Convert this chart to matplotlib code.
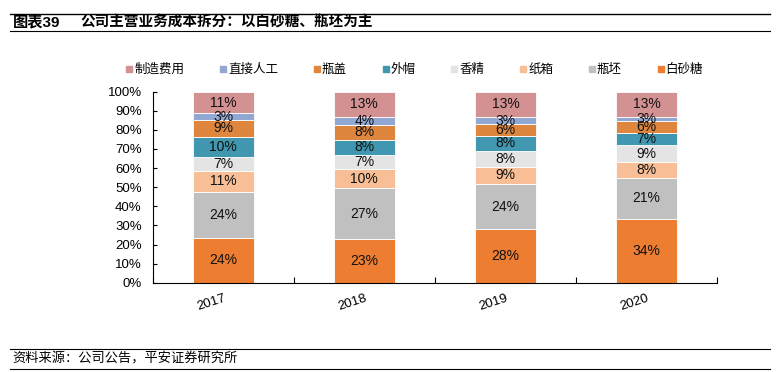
import matplotlib
matplotlib.use("Agg")
import matplotlib.pyplot as plt
from matplotlib.lines import Line2D
import numpy as np

plt.rcParams['font.family'] = ['Liberation Sans', 'Noto Sans CJK SC']

years = ["2017", "2018", "2019", "2020"]
# stacked bottom -> top
components = ["白砂糖", "瓶坯", "纸箱", "香精", "外帽", "瓶盖", "直接人工", "制造费用"]
sugar = [23.6, 22.9, 27.9, 33.6]
preform = [24.0, 26.6, 23.7, 21.1]
carton = [10.9, 10.1, 9.2, 8.3]
flavor = [7.4, 7.4, 8.4, 8.9]
outer_cap = [10.3, 7.9, 7.8, 6.6]
cap = [9.1, 7.9, 6.2, 5.9]
labor = [3.3, 4.1, 3.4, 2.6]
overhead = [11.4, 13.1, 13.4, 13.0]
colors = ["#ED7D31", "#C0C0C0", "#F8BF96", "#E4E4E4", "#4097AF", "#DE863E", "#91A9D2", "#D49192"]

series = [sugar, preform, carton, flavor, outer_cap, cap, labor, overhead]

fig = plt.figure(figsize=(7.79, 3.72), dpi=100)
ax = fig.add_axes([152.7 / 779, 1 - 282.7 / 372, (717 - 152.7) / 779, (282.7 - 91.7) / 372])

x = np.arange(len(years))
bottom = np.zeros(len(years))
for name, vals, c in zip(components, series, colors):
    v = np.array(vals) / 100
    ax.bar(x, v, 0.43, bottom=bottom, color=c, edgecolor="white", linewidth=0.6, label=name)
    for xi, b, h, raw in zip(x, bottom, v, vals):
        ax.text(xi, b + h / 2, f"{round(raw):.0f}%", ha="center", va="center", fontsize=10, color="#111111")
    bottom += v

ax.set_xlim(-0.5, len(years) - 0.5)
ax.set_ylim(0, 1)
ax.set_yticks(np.arange(0, 1.01, 0.1))
ax.set_yticklabels([f"{int(round(t * 100))}%" for t in np.arange(0, 1.01, 0.1)], fontsize=9.5)
ax.set_xticks(np.arange(-0.5, len(years), 1.0))
ax.set_xticklabels([])
ax.set_xticks(x, minor=True)
ax.set_xticklabels(years, minor=True, fontsize=9.5, rotation=18, ha="right", va="top",
                   rotation_mode="anchor")
ax.tick_params(axis="x", which="major", direction="in", length=4, width=0.8)
ax.tick_params(axis="x", which="minor", length=0, pad=7)
ax.tick_params(axis="y", direction="in", length=3, width=0.8, pad=8)
for s in ["top", "right"]:
    ax.spines[s].set_visible(False)
for s in ["left", "bottom"]:
    ax.spines[s].set_linewidth(0.8)

handles = [Line2D([], [], marker="s", linestyle="none", markersize=5, color=c, markeredgecolor=c)
           for c in colors[::-1]]
fig.legend(handles, components[::-1], loc="center", bbox_to_anchor=(414 / 779, 1 - 70 / 372),
           ncol=8, frameon=False, fontsize=9, handletextpad=0.05, columnspacing=2.75, handlelength=0.7)

# header
fig.add_artist(Line2D([10 / 779, 770 / 779], [1 - 14 / 372] * 2, color="black", linewidth=1.0))
fig.add_artist(Line2D([10 / 779, 770 / 779], [1 - 31 / 372] * 2, color="black", linewidth=0.8))
fig.text(13 / 779, 1 - 22.5 / 372, "图表39", fontsize=11, fontweight="bold", va="center")
fig.text(80 / 779, 1 - 22.5 / 372, "公司主营业务成本拆分：以白砂糖、瓶坯为主", fontsize=10.5,
         fontweight="bold", va="center")

# footer
fig.add_artist(Line2D([10 / 779, 770 / 779], [1 - 349 / 372] * 2, color="black", linewidth=0.8))
fig.add_artist(Line2D([10 / 779, 770 / 779], [1 - 369 / 372] * 2, color="black", linewidth=0.8))
fig.text(12 / 779, 1 - 359 / 372, "资料来源：公司公告，平安证券研究所", fontsize=9.5, va="center",
         style="italic")

fig.savefig("out.png", dpi=100)
